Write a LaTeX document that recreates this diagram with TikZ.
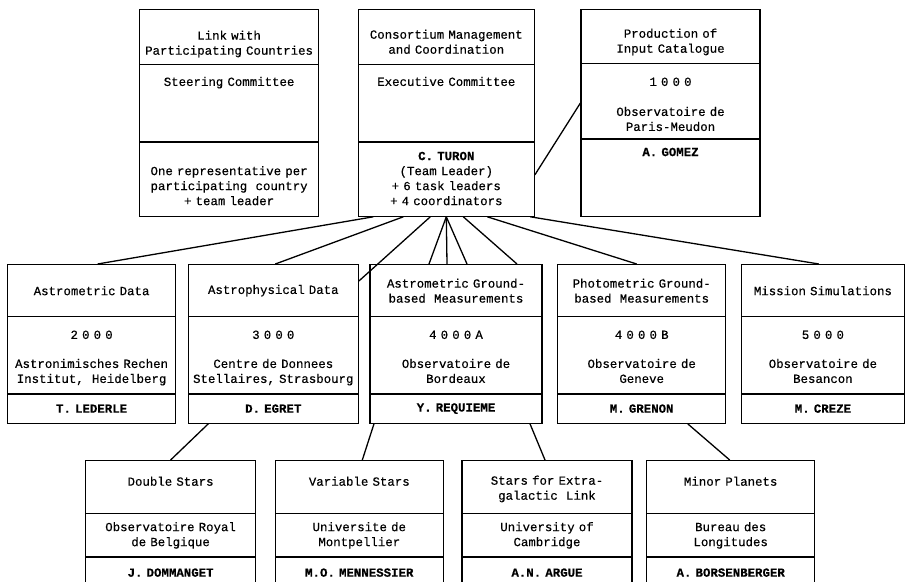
\documentclass[tikz,border=0pt]{standalone}
\usepackage{fontspec}
\setmonofont{Liberation Mono}[FakeBold=0.4]
\usetikzlibrary{shapes,positioning}
\tikzset{unit/.style={rectangle split, rectangle split parts=3, draw, line width=1.2pt,
    inner sep=0pt, font=\ttfamily\fontsize{12.4}{15}\selectfont},
  link/.style={line width=1.3pt}
}
% one compartment: centred, or set from the top with a gap
\newcommand{\cell}[2]{\parbox[c][#1][c]{\linewidth}{\centering #2}}
\newcommand{\celltop}[3]{\parbox[c][#1][t]{\linewidth}{\centering\vspace*{#2}\strut #3}}

\begin{document}
\begin{tikzpicture}[x=1pt,y=1pt]
  \useasboundingbox (0,0) rectangle (910,-581);
  % top row
  \node[unit, text width=179pt, anchor=north west] (steer) at (139,-9)
    {\celltop{54pt}{19pt}{Link with\\Participating Countries}
     \nodepart{two}\celltop{76pt}{10pt}{Steering Committee}
     \nodepart{three}\celltop{73pt}{22pt}{One representative per\\participating~ country\\+ team leader}};
  \node[unit, text width=176pt, right=38.5pt of steer] (cons)
    {\celltop{54pt}{18pt}{Consortium Management\\and Coordination}
     \nodepart{two}\celltop{76pt}{10pt}{Executive Committee}
     \nodepart{three}\celltop{73pt}{7pt}{\textbf{C. TURON}\\(Team Leader)\\+ 6 task leaders\\+ 4 coordinators}};
  \node[unit, text width=179pt, right=45.5pt of cons] (input)
    {\celltop{53pt}{17pt}{Production of\\Input Catalogue}
     \nodepart{two}\celltop{74pt}{11pt}{1 0 0 0\\[15pt]Observatoire de\\Paris-Meudon}
     \nodepart{three}\celltop{76pt}{6pt}{\textbf{A. GOMEZ}}};
  % task groups
  \node[unit, text width=168pt, anchor=north west] (astrom) at (7,-264)
    {\cell{51pt}{Astrometric Data}
     \nodepart{two}\celltop{76pt}{11pt}{2 0 0 0\\[14pt]Astronimisches Rechen\\Institut,~ Heidelberg}
     \nodepart{three}\cell{28pt}{\textbf{T. LEDERLE}}};
  \node[unit, text width=170pt, right=11.5pt of astrom] (astrophys)
    {\cell{51pt}{Astrophysical Data}
     \nodepart{two}\celltop{76pt}{11pt}{3 0 0 0\\[14pt]Centre de Donnees\\Stellaires, Strasbourg}
     \nodepart{three}\cell{28pt}{\textbf{D. EGRET}}};
  \node[unit, text width=172pt, right=10.5pt of astrophys] (groundA)
    {\cell{51pt}{Astrometric Ground-\\based~ Measurements}
     \nodepart{two}\celltop{76pt}{11pt}{4 0 0 0 A\\[14pt]Observatoire de\\Bordeaux}
     \nodepart{three}\cell{28pt}{\textbf{Y. REQUIEME}}};
  \node[unit, text width=168pt, right=14.5pt of groundA] (groundB)
    {\cell{51pt}{Photometric Ground-\\based~ Measurements}
     \nodepart{two}\celltop{76pt}{11pt}{4 0 0 0 B\\[14pt]Observatoire de\\Geneve}
     \nodepart{three}\cell{28pt}{\textbf{M. GRENON}}};
  \node[unit, text width=163pt, right=14.5pt of groundB] (mission)
    {\cell{51pt}{Mission Simulations}
     \nodepart{two}\celltop{76pt}{11pt}{5 0 0 0\\[14pt]Observatoire de\\Besancon}
     \nodepart{three}\cell{28pt}{\textbf{M. CREZE}}};
  % special programmes
  \node[unit, text width=170pt, anchor=north west] (double) at (85,-460)
    {\celltop{52pt}{14pt}{Double Stars}
     \nodepart{two}\cell{42pt}{Observatoire Royal\\de Belgique}
     \nodepart{three}\cell{30pt}{\textbf{J. DOMMANGET}}};
  \node[unit, text width=168pt, right=18.5pt of double] (variable)
    {\celltop{52pt}{14pt}{Variable Stars}
     \nodepart{two}\cell{42pt}{Universite de\\Montpellier}
     \nodepart{three}\cell{30pt}{\textbf{M.O. MENNESSIER}}};
  \node[unit, text width=170pt, right=17.5pt of variable] (extragal)
    {\celltop{52pt}{13pt}{Stars for Extra-\\galactic~ Link}
     \nodepart{two}\cell{42pt}{University of\\Cambridge}
     \nodepart{three}\cell{30pt}{\textbf{A.N. ARGUE}}};
  \node[unit, text width=168pt, right=13.5pt of extragal] (minor)
    {\celltop{52pt}{14pt}{Minor Planets}
     \nodepart{two}\cell{42pt}{Bureau des\\Longitudes}
     \nodepart{three}\cell{30pt}{\textbf{A. BORSENBERGER}}};

  \path[link] ([yshift=42pt]cons.south east) edge ([yshift=-94pt]input.north west)
    ([xshift=-73pt]cons.south) edge ([xshift=6pt]astrom.north)
    ([xshift=-43pt]cons.south) edge ([xshift=2pt]astrophys.north)
    ([xshift=-16pt]cons.south) edge ([yshift=-17pt]astrophys.north east)
    (cons.south) edge ([xshift=-27pt]groundA.north)
    (cons.south) edge ([xshift=-9pt]groundA.north)
    (cons.south) edge ([xshift=11pt]groundA.north)
    ([xshift=17pt]cons.south) edge ([xshift=61pt]groundA.north)
    ([xshift=41pt]cons.south) edge ([xshift=-5pt]groundB.north)
    ([xshift=84pt]cons.south) edge ([xshift=-4pt]mission.north)
    ([xshift=-65pt]astrophys.south) edge (double.north)
    ([xshift=-82pt]groundA.south) edge ([xshift=3pt]variable.north)
    ([xshift=74pt]groundA.south) edge ([xshift=-2pt]extragal.north)
    ([xshift=46pt]groundB.south) edge ([xshift=-1pt]minor.north);
\end{tikzpicture}
\end{document}
